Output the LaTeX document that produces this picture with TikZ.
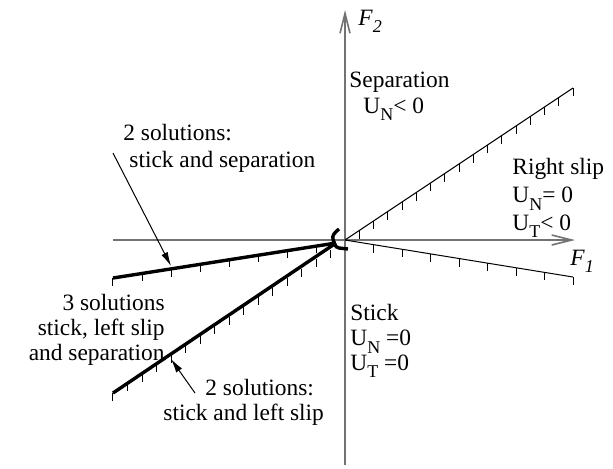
\documentclass[tikz,border=0pt]{standalone}
\usepackage{fontspec}
\setmainfont{Liberation Serif}
\usetikzlibrary{arrows.meta, positioning, calc}
\definecolor{axisgray}{RGB}{115,115,115}
\newcommand{\idx}[1]{\raisebox{-0.33em}{\fontsize{9}{9}\selectfont #1}}

\begin{document}
\begin{tikzpicture}[
  x=0.5pt, y=0.5pt,
  every node/.style={font=\fontsize{11.7}{13.5}\selectfont, inner sep=0pt},
  axis/.style={draw=axisgray, line width=0.8pt, -{Straight Barb[length=10pt,width=5pt]}},
  cone/.style={line width=0.5pt},
  heavy/.style={line width=1.7pt},
  hatch/.style={line width=0.5pt},
  callout/.style={line width=0.5pt, -{Latex[length=7pt,width=3.5pt]}}
]
  \useasboundingbox (-345,-228) rectangle (268,240);

  % axes
  \coordinate (O) at (0,0);
  \coordinate (xl) at (-232,0);
  \coordinate (xr) at (230,0);
  \coordinate (yb) at (0,-225);
  \coordinate (yt) at (0,230);
  \draw[axis] (xl) -- (xr);
  \draw[axis] (yb) -- (yt);

  % right slip cone
  \coordinate (up) at (228,152);
  \coordinate (dn) at (228,-37);
  \draw[cone] (O) -- (up);
  \draw[cone] (O) -- (dn);
  \foreach \i in {1,...,16} \draw[hatch] ($(O)!\i/16!(up)$) -- ++(0,-8);
  \foreach \i in {1,...,8} \draw[hatch] ($(O)!\i/8!(dn)$) -- ++(0,-8);

  % left lines (several solutions)
  \coordinate (tip) at (-9,-3);
  \coordinate (sepL) at (-232,-38);
  \coordinate (slipL) at (-232,-153);
  \draw[heavy] (tip) -- (sepL);
  \draw[heavy] (tip) -- (slipL);
  \foreach \i in {1,...,8} \draw[hatch] ($(O)!\i/8!(sepL)$) -- ++(0,-8);
  \foreach \i in {1,...,16} \draw[hatch] ($(O)!\i/16!(slipL)$) -- ++(0,-8);
  \draw[heavy] (-6,11) .. controls (-11,7) and (-13,4) .. (-12,1)
    .. controls (-11,-4) and (-10,-7) .. (-6,-8) -- (3,-9);

  % labels (base = last line)
  \node[anchor=base west] (F2) at (13,215) {\textit{F}\idx{\textit{2}}};
  \node[anchor=base west] (F1) at (225,-25) {\textit{F}\idx{\textit{1}}};
  \node[anchor=base west, align=left, font=\fontsize{11.7}{13}\selectfont] (sep) at (4,127)
    {Separation\\\hspace*{7pt}U\idx{N}< 0};
  \node[anchor=base west, align=left, font=\fontsize{11.7}{13.8}\selectfont] (rslip) at (167,10)
    {Right slip\\U\idx{N}= 0\\U\idx{T}< 0};
  \node[anchor=base west, align=left, font=\fontsize{11.7}{12.3}\selectfont] (stick) at (5,-130)
    {Stick\\U\idx{N} =0\\U\idx{T} =0};
  \node[anchor=base west, align=left] (two1) at (-222,73)
    {2 solutions:\\\hspace*{3pt}stick and separation};
  \node[anchor=base east, align=right, font=\fontsize{11.7}{12.3}\selectfont] (three) at (-180,-120)
    {3 solutions\\stick, left slip\\and separation};
  \node[anchor=base west, align=left, font=\fontsize{11.7}{12.5}\selectfont] (two2) at (-182,-180)
    {\hspace*{21pt}2 solutions:\\stick and left slip};

  % callouts
  \coordinate (c1) at (-232,87);
  \coordinate (h1) at (-174,-26);
  \draw[callout] (c1) -- (h1);
  \coordinate (c2) at (-150,-153);
  \coordinate (h2) at (-174,-119);
  \draw[callout] (c2) -- (h2);
\end{tikzpicture}
\end{document}
